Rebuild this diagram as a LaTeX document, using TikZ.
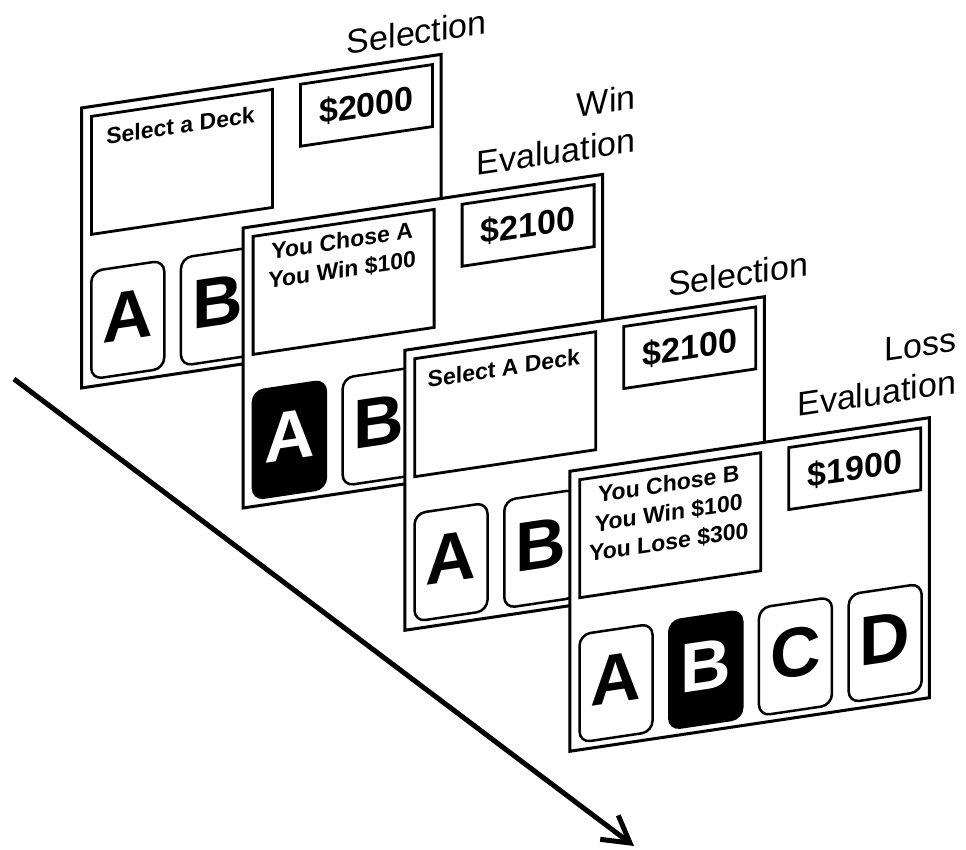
\documentclass[tikz,border=0pt]{standalone}
\usepackage{fontspec}
\setmainfont{Liberation Sans}
\usetikzlibrary{arrows.meta}

\tikzset{
  screen/.style={draw, fill=white, line width=3pt, minimum width=359.5pt,
    minimum height=280pt, inner sep=0pt, anchor=north west, transform shape},
  msgbox/.style={draw, line width=2.8pt, minimum width=181pt, minimum height=118pt,
    inner sep=0pt, anchor=north west, transform shape},
  cashbox/.style={draw, line width=2.8pt, minimum width=132pt, minimum height=62pt,
    inner sep=0pt, anchor=north west, transform shape,
    font=\fontsize{34}{34}\selectfont\bfseries},
  deck/.style={draw, fill=white, line width=2.5pt, rounded corners=11pt,
    minimum width=73pt, minimum height=108pt, inner sep=0pt, text depth=9pt,
    anchor=north west, transform shape, font=\fontsize{70}{70}\selectfont\bfseries},
  chosen/.style={deck, fill=black, text=white},
  msg/.style={font=\fontsize{23}{29}\selectfont\bfseries, inner sep=0pt,
    anchor=base, transform shape},
  phase/.style={font=\fontsize{34}{34}\selectfont, inner sep=0pt,
    anchor=base east, transform shape},
}

\begin{document}
\begin{tikzpicture}[x=1pt, y=-1pt]
\useasboundingbox (0,0) rectangle (966,850);

% time axis
\coordinate (t0) at (14,379);
\coordinate (t1) at (634,846);
\draw[line width=5pt, -{Straight Barb[length=26pt, width=30pt]}] (t0) -- (t1);

% screen 1: first selection (decks C and D lie under screen 2)
\begin{scope}[shift={(80,106.7)}, yslant=0.149]
  \node[screen] (s1) at (0,0) {};
  \node[msgbox] (s1box) at (10,10) {};
  \node[msg] (s1m) at (100.5,42) {Select a Deck};
  \node[cashbox] (s1cash) at (219,9) {\$2000};
  \node[deck] (s1a) at (10,165) {A};
  \node[deck] (s1b) at (99.7,165) {B};
  \node[phase] (s1lab) at (407,-12) {Selection};
\end{scope}

% screen 2: win evaluation
\begin{scope}[shift={(241.7,226.7)}, yslant=0.149]
  \node[screen] (s2) at (0,0) {};
  \node[msgbox] (s2box) at (10,10) {};
  \node[msg] (s2m1) at (100.5,37) {You Chose A};
  \node[msg] (s2m2) at (100.5,66) {You Win \$100};
  \node[cashbox] (s2cash) at (219,9) {\$2100};
  \node[chosen] (s2a) at (10,165) {A};
  \node[deck] (s2b) at (99.7,165) {B};
  \node[phase] (s2lab1) at (394,-59) {Win};
  \node[phase] (s2lab2) at (394,-16) {Evaluation};
\end{scope}

% screen 3: second selection
\begin{scope}[shift={(403.3,349)}, yslant=0.149]
  \node[screen] (s3) at (0,0) {};
  \node[msgbox] (s3box) at (10,10) {};
  \node[msg] (s3m) at (100.5,42) {Select A Deck};
  \node[cashbox] (s3cash) at (219,9) {\$2100};
  \node[deck] (s3a) at (10,165) {A};
  \node[deck] (s3b) at (99.7,165) {B};
  \node[phase] (s3lab) at (405,-13) {Selection};
\end{scope}

% screen 4: loss evaluation
\begin{scope}[shift={(568.3,470)}, yslant=0.149]
  \node[screen] (s4) at (0,0) {};
  \node[msgbox] (s4box) at (10,10) {};
  \node[msg] (s4m1) at (100.5,37) {You Chose B};
  \node[msg] (s4m2) at (100.5,66) {You Win \$100};
  \node[msg] (s4m3) at (100.5,95) {You Lose \$300};
  \node[cashbox] (s4cash) at (219,9) {\$1900};
  \node[deck] (s4a) at (10,165) {A};
  \node[chosen] (s4b) at (99.7,165) {B};
  \node[deck] (s4c) at (189.4,165) {C};
  \node[deck] (s4d) at (279.1,165) {D};
  \node[phase] (s4lab1) at (388,-61) {Loss};
  \node[phase] (s4lab2) at (388,-19) {Evaluation};
\end{scope}
\end{tikzpicture}
\end{document}
